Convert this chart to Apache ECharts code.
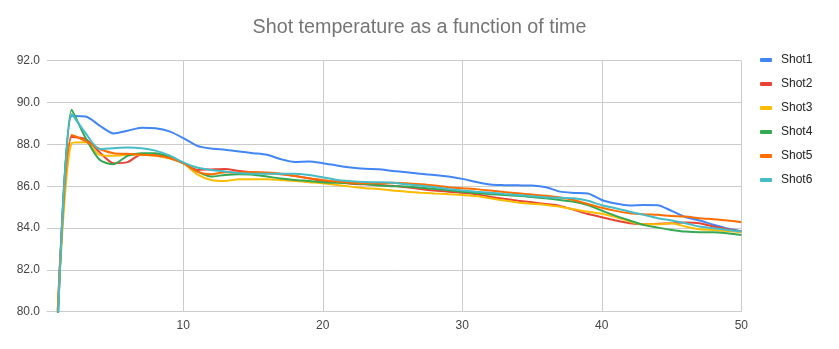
<!DOCTYPE html>
<html>
<head>
<meta charset="utf-8">
<script src="https://cdn.jsdelivr.net/npm/echarts@6/dist/echarts.min.js"></script>
<style>
  html, body { margin: 0; padding: 0; background: #fff; }
  #chart { width: 839px; height: 349px; }
</style>
</head>
<body>
<div id="chart"></div>
<script>
// Time steps (x) and shot temperatures
const times = [1,2,3,4,5,6,7,8,9,10,11,12,13,14,15,16,17,18,19,20,21,22,23,24,25,26,27,28,29,30,31,32,33,34,35,36,37,38,39,40,41,42,43,44,45,46,47,48,49,50];

const shot1 = [79.6,89.36,89.33,88.9,88.52,88.65,88.8,88.77,88.62,88.3,87.93,87.8,87.74,87.66,87.58,87.5,87.29,87.16,87.18,87.1,86.99,86.89,86.83,86.81,86.73,86.67,86.59,86.54,86.46,86.35,86.2,86.08,86.05,86.04,86.03,85.95,85.74,85.68,85.65,85.34,85.17,85.08,85.1,85.09,84.82,84.52,84.36,84.16,83.98,83.85];
const shot2 = [80.0,88.35,88.25,87.62,87.1,87.15,87.52,87.5,87.35,87.1,86.78,86.8,86.82,86.73,86.66,86.62,86.57,86.49,86.38,86.25,86.2,86.12,86.09,86.06,86.02,85.95,85.87,85.79,85.74,85.69,85.62,85.5,85.4,85.31,85.23,85.15,85.06,84.87,84.67,84.52,84.36,84.23,84.18,84.2,84.23,84.26,84.23,84.07,83.94,83.83];
const shot3 = [79.9,88.06,88.1,87.5,87.45,87.5,87.5,87.45,87.33,87.1,86.57,86.3,86.25,86.33,86.33,86.33,86.3,86.25,86.19,86.14,86.06,85.98,85.9,85.87,85.79,85.74,85.69,85.65,85.62,85.58,85.53,85.42,85.32,85.22,85.16,85.1,85.02,84.9,84.78,84.68,84.52,84.31,84.18,84.18,84.23,84.07,83.94,83.91,83.86,83.8];
const shot4 = [79.5,89.65,88.3,87.26,87.05,87.45,87.58,87.58,87.4,87.1,86.7,86.46,86.54,86.57,86.55,86.46,86.37,86.3,86.25,86.19,86.16,86.14,86.1,86.03,86.0,85.98,85.93,85.87,85.81,85.74,85.67,85.62,85.58,85.54,85.48,85.42,85.34,85.26,85.1,84.83,84.58,84.36,84.15,84.02,83.91,83.83,83.8,83.8,83.75,83.67];
const shot5 = [80.1,88.45,88.15,87.78,87.58,87.55,87.5,87.47,87.35,87.1,86.7,86.57,86.67,86.65,86.68,86.65,86.59,86.49,86.38,86.3,86.22,86.17,86.14,86.14,86.17,86.14,86.09,86.03,85.95,85.9,85.86,85.79,85.72,85.66,85.6,85.54,85.46,85.34,85.15,84.97,84.82,84.71,84.66,84.63,84.58,84.55,84.47,84.42,84.36,84.28];
const shot6 = [79.4,89.45,88.53,87.78,87.82,87.85,87.82,87.7,87.47,87.14,86.89,86.78,86.7,86.62,86.6,86.6,86.6,86.59,86.54,86.43,86.3,86.24,86.2,86.19,86.17,86.09,86.03,85.95,85.87,85.8,85.74,85.69,85.63,85.58,85.52,85.46,85.45,85.42,85.3,85.09,84.95,84.78,84.63,84.47,84.36,84.23,84.07,83.99,83.91,83.83];

const seriesNames = ['Shot1','Shot2','Shot3','Shot4','Shot5','Shot6'];
const seriesValues = [shot1, shot2, shot3, shot4, shot5, shot6];
const seriesColors = ['#4285F4','#EA4335','#FBBC04','#34A853','#FF6D01','#46BDC6'];

const xTicks = [10, 20, 30, 40, 50];

const FONT = 'Arial, "Liberation Sans", sans-serif';

const chart = echarts.init(document.getElementById('chart'), null, { renderer: 'canvas' });

chart.setOption({
  animation: false,
  backgroundColor: '#ffffff',
  title: {
    text: 'Shot temperature as a function of time',
    left: 'center',
    top: 13,
    textStyle: { fontFamily: FONT, fontSize: 19.7, fontWeight: 'normal', color: '#757575' }
  },
  legend: {
    orient: 'vertical',
    left: 755,
    top: 49,
    itemWidth: 12,
    itemHeight: 4,
    itemGap: 12,
    icon: 'roundRect',
    data: seriesNames,
    textStyle: { fontFamily: FONT, fontSize: 12, color: '#222222', padding: [0, 0, 0, 4] }
  },
  grid: { left: 47, right: 97.7, top: 60.7, bottom: 37.3, containLabel: false },
  xAxis: {
    type: 'value',
    min: 0.23,
    max: 50,
    axisLine: { show: true, lineStyle: { color: '#cccccc', width: 1 } },
    axisTick: { show: false, customValues: xTicks },
    axisLabel: {
      customValues: xTicks,
      margin: 8,
      fontFamily: FONT,
      fontSize: 12,
      color: '#444444'
    },
    splitLine: { show: true, lineStyle: { color: '#cccccc', width: 1 } }
  },
  yAxis: {
    type: 'value',
    min: 80,
    max: 92,
    interval: 2,
    axisLine: { show: false },
    axisTick: { show: false },
    axisLabel: {
      margin: 7,
      fontFamily: FONT,
      fontSize: 12,
      color: '#444444',
      formatter: v => v.toFixed(1)
    },
    splitLine: { show: true, lineStyle: { color: '#cccccc', width: 1 } }
  },
  series: seriesNames.map((name, i) => ({
    name,
    type: 'line',
    data: times.map((t, j) => [t, seriesValues[i][j]]),
    smooth: 0.25,
    showSymbol: false,
    symbol: 'none',
    clip: true,
    color: seriesColors[i],
    lineStyle: { width: 2, color: seriesColors[i] }
  }))
});
</script>
</body>
</html>
